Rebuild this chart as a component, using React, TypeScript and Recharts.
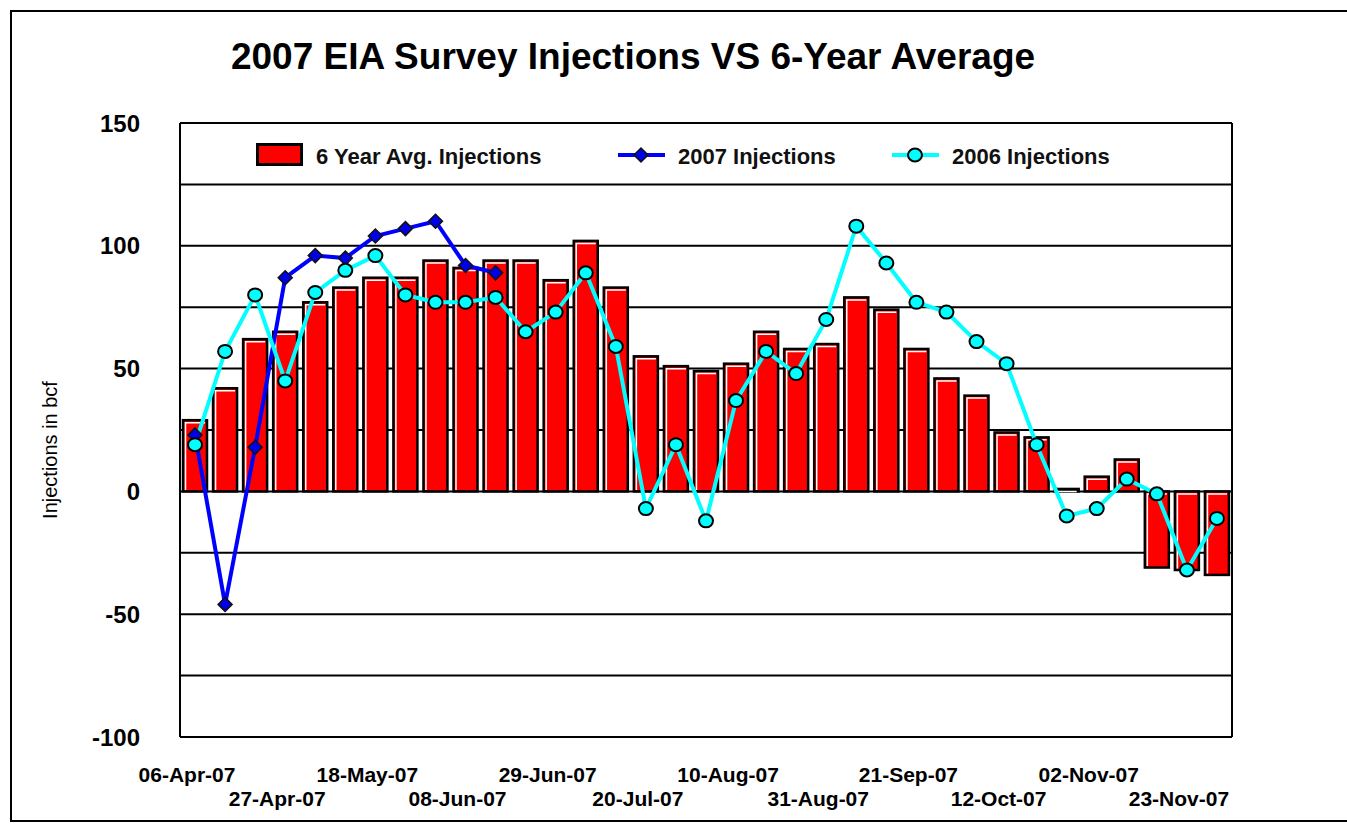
import { Bar, CartesianGrid, ComposedChart, Legend, Line, XAxis, YAxis } from "recharts";

const FONT = "'Liberation Sans', Arial, sans-serif";

const weeks = [
  "06-Apr-07", "13-Apr-07", "20-Apr-07", "27-Apr-07", "04-May-07", "11-May-07", "18-May-07",
  "25-May-07", "01-Jun-07", "08-Jun-07", "15-Jun-07", "22-Jun-07", "29-Jun-07", "06-Jul-07",
  "13-Jul-07", "20-Jul-07", "27-Jul-07", "03-Aug-07", "10-Aug-07", "17-Aug-07", "24-Aug-07",
  "31-Aug-07", "07-Sep-07", "14-Sep-07", "21-Sep-07", "28-Sep-07", "05-Oct-07", "12-Oct-07",
  "19-Oct-07", "26-Oct-07", "02-Nov-07", "09-Nov-07", "16-Nov-07", "23-Nov-07", "30-Nov-07",
];

const avg6Year = [
  29, 42, 62, 65, 77, 83, 87, 87, 94, 91, 94, 94, 86, 102, 83, 55, 51, 49, 52, 65, 58, 60, 79, 74,
  58, 46, 39, 24, 22, 1, 6, 13, -31, -32, -34,
];

const inj2007 = [23, -46, 18, 87, 96, 95, 104, 107, 110, 92, 89];

const inj2006 = [
  19, 57, 80, 45, 81, 90, 96, 80, 77, 77, 79, 65, 73, 89, 59, -7, 19, -12, 37, 57, 48, 70, 108, 93,
  77, 73, 61, 52, 19, -10, -7, 5, -1, -32, -11,
];

const yTicks = [-100, -75, -50, -25, 0, 25, 50, 75, 100, 125, 150];

const data = weeks.map((week, i) => ({
  week,
  avg: avg6Year[i],
  y2007: inj2007[i] ?? null,
  y2006: inj2006[i],
}));

function BevelBar(props: any) {
  const { x, y, width, height } = props;
  if (width == null || height == null) return null;
  const top = Math.min(y, y + height);
  const h = Math.abs(height);
  return (
    <g>
      <rect x={x} y={top} width={width} height={h} fill="#FF0000" stroke="#000" strokeWidth={2.5} />
      <polyline
        points={`${x + 2.5},${top + h - 1.5} ${x + 2.5},${top + 2.5} ${x + width - 2},${top + 2.5}`}
        fill="none"
        stroke="#fff"
        strokeWidth={1.5}
      />
    </g>
  );
}

const DIAMOND = 7;

function Diamond({ cx, cy }: any) {
  if (cx == null || cy == null) return null;
  const s = DIAMOND;
  return (
    <path
      d={`M${cx},${cy - s} L${cx + s},${cy} L${cx},${cy + s} L${cx - s},${cy} Z`}
      fill="#0000E8"
      stroke="#111"
      strokeWidth={1.5}
    />
  );
}

function Ring({ cx, cy }: any) {
  if (cx == null || cy == null) return null;
  return <ellipse cx={cx} cy={cy} rx={7} ry={6.5} fill="#00FFFF" stroke="#000" strokeWidth={2} />;
}

function WeekTick({ x, y, index, payload }: any) {
  if (index % 3 !== 0) return null;
  const second = (index / 3) % 2 === 1;
  return (
    <text
      x={x - 8}
      y={y + (second ? 69 : 45)}
      textAnchor="middle"
      fontSize={21}
      fontWeight="bold"
      fontFamily={FONT}
      fill="#000"
    >
      {payload.value}
    </text>
  );
}

function ValueTick({ x, y, payload }: any) {
  if (payload.value % 50 !== 0) return null;
  return (
    <text x={x - 40} y={y} dy="0.36em" textAnchor="end" fontSize={24} fontWeight="bold" fontFamily={FONT} fill="#000">
      {payload.value}
    </text>
  );
}

function AxisTitle(props: any) {
  const vb = props.viewBox || { x: 10, y: 123, width: 170, height: 614 };
  const cx = vb.x + 40;
  const cy = vb.y + vb.height / 2 + 20;
  return (
    <text
      x={cx}
      y={cy}
      transform={`rotate(-90 ${cx} ${cy})`}
      textAnchor="middle"
      dy="0.36em"
      fontSize={20}
      fontFamily={FONT}
      fill="#000"
    >
      Injections in bcf
    </text>
  );
}

function legendIcon(key: string) {
  if (key === "avg") {
    return (
      <svg width={47} height={24}>
        <rect x={1.5} y={1.5} width={44} height={20} fill="#FF0000" stroke="#000" strokeWidth={3} />
      </svg>
    );
  }
  return (
    <svg width={47} height={24}>
      <line x1={0} y1={12} x2={47} y2={12} stroke={key === "y2007" ? "#0000FF" : "#00FFFF"} strokeWidth={4} />
      {key === "y2007" ? <Diamond cx={23} cy={12} /> : <Ring cx={23} cy={12} />}
    </svg>
  );
}

const legendItems = [
  { key: "avg", label: "6 Year Avg. Injections", width: 362 },
  { key: "y2007", label: "2007 Injections", width: 274 },
  { key: "y2006", label: "2006 Injections", width: 260 },
];

function renderLegend() {
  return (
    <div style={{ display: "flex", fontFamily: FONT, fontSize: 22, fontWeight: "bold", color: "#111" }}>
      {legendItems.map((it) => (
        <div key={it.key} style={{ display: "flex", alignItems: "center", width: it.width }}>
          {legendIcon(it.key)}
          <span style={{ marginLeft: 13, paddingTop: 4, whiteSpace: "nowrap" }}>{it.label}</span>
        </div>
      ))}
    </div>
  );
}

export default function App() {
  return (
    <div style={{ position: "absolute", left: 0, top: 0, width: 1347, height: 825, background: "#fff", overflow: "hidden" }}>
      <div
        style={{
          position: "absolute",
          left: 10,
          top: 10,
          width: 1400,
          height: 808,
          borderLeft: "2px solid #000",
          borderTop: "2px solid #000",
          borderBottom: "2px solid #000",
        }}
      />
      <div
        style={{
          position: "absolute",
          left: 0,
          top: 37,
          width: 1266,
          textAlign: "center",
          fontFamily: FONT,
          fontSize: 37,
          lineHeight: "40px",
          fontWeight: "bold",
          color: "#000",
        }}
      >
        2007 EIA Survey Injections VS 6-Year Average
      </div>
      <div style={{ position: "absolute", left: 0, top: 0 }}>
        <ComposedChart width={1347} height={825} data={data} margin={{ top: 123, right: 114, bottom: 8, left: 10 }}>
          <CartesianGrid vertical={false} stroke="#000" strokeWidth={2} />
          <XAxis
            dataKey="week"
            interval={0}
            height={80}
            tickLine={false}
            tickSize={0}
            tickMargin={0}
            axisLine={{ stroke: "#000", strokeWidth: 2 }}
            tick={WeekTick}
          />
          <YAxis
            width={170}
            domain={[-100, 150]}
            ticks={yTicks}
            interval={0}
            tickLine={false}
            tickSize={0}
            tickMargin={0}
            axisLine={{ stroke: "#000", strokeWidth: 2 }}
            tick={ValueTick}
            label={<AxisTitle />}
          />
          <YAxis
            yAxisId="frame"
            orientation="right"
            width={1}
            domain={[-100, 150]}
            ticks={yTicks}
            tick={false}
            tickLine={false}
            axisLine={{ stroke: "#000", strokeWidth: 2 }}
          />
          <Legend
            layout="horizontal"
            verticalAlign="middle"
            align="center"
            wrapperStyle={{ position: "absolute", left: 256, top: 140, width: 920 }}
            content={renderLegend}
          />
          <Bar dataKey="avg" name="6 Year Avg. Injections" barSize={24} shape={<BevelBar />} isAnimationActive={false} />
          <Line
            dataKey="y2007"
            name="2007 Injections"
            stroke="#0000FF"
            strokeWidth={4}
            dot={<Diamond />}
            activeDot={false}
            isAnimationActive={false}
          />
          <Line
            dataKey="y2006"
            name="2006 Injections"
            stroke="#00FFFF"
            strokeWidth={4}
            dot={<Ring />}
            activeDot={false}
            isAnimationActive={false}
          />
        </ComposedChart>
      </div>
    </div>
  );
}
